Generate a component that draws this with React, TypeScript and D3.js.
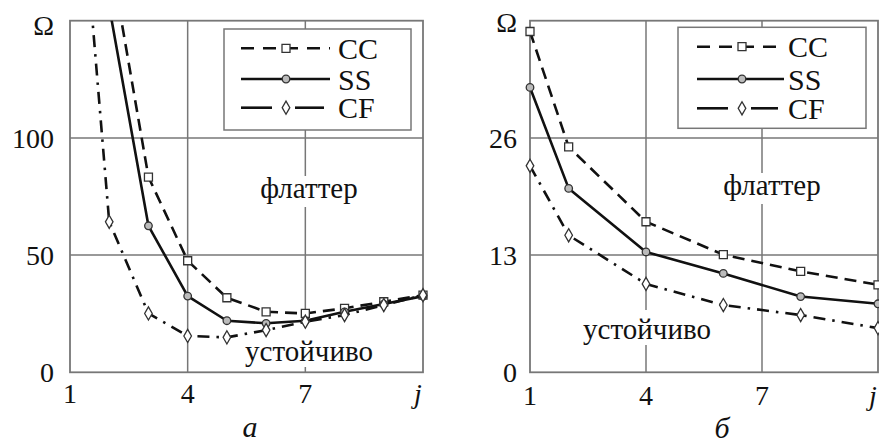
import React from 'react';
import * as d3 from 'd3';

const FONT = '"Liberation Serif", "Times New Roman", serif';

// panel a: Ω(j), points beyond the top are clipped
const jCcA = [2, 3, 4, 5, 6, 7, 8, 9, 10];
const ccA = [180, 83.3, 47.6, 31.8, 25.8, 25.1, 27.3, 30.1, 32.9];
const jSsA = [2, 3, 4, 5, 6, 7, 8, 9, 10];
const ssA = [156, 62.5, 32.5, 22, 20.9, 22, 25.8, 29.1, 32.5];
const jCfA = [1, 2, 3, 4, 5, 6, 7, 8, 9, 10];
const cfA = [265, 64.2, 25.1, 15.5, 14.9, 18, 21.6, 24.4, 28.7, 32.9];

// panel б
const jB = [1, 2, 4, 6, 8, 10];
const ccB = [37.8, 25.0, 16.7, 13.05, 11.2, 9.7];
const ssB = [31.6, 20.4, 13.35, 10.97, 8.4, 7.6];
const cfB = [22.9, 15.2, 9.8, 7.46, 6.35, 4.9];

const xTicks = [1, 4, 7];
const yTicksA = [0, 50, 100];
const yTicksB = [0, 13, 26];
const names = ['CC', 'SS', 'CF'];

const dashes: Record<string, string | undefined> = {
  CC: '12,7',
  SS: undefined,
  CF: '12,7,2.5,7',
};
const symbols: Record<string, d3.SymbolType> = {
  CC: d3.symbolSquare,
  SS: d3.symbolCircle,
  CF: d3.symbolDiamond,
};
const symbolSize: Record<string, number> = { CC: 64, SS: 45, CF: 50 };
const symbolFill: Record<string, string> = { CC: '#fff', SS: '#bbb', CF: '#fff' };

const GRID = '#777';

function Marker({ name, x, y }: { name: string; x: number; y: number }) {
  const path = d3.symbol().type(symbols[name]).size(symbolSize[name])();
  return (
    <path
      d={path || ''}
      transform={`translate(${x},${y})`}
      fill={symbolFill[name]}
      stroke="#333"
      strokeWidth={1.3}
    />
  );
}

function Panel(props: any) {
  const {
    id, xRange, top, bottom, yMax, yTicks, series,
    yLabelX, xLabelY, omega, caption, flutter, stable, legend,
  } = props;

  const x = d3.scaleLinear().domain([1, 10]).range(xRange);
  const y = d3.scaleLinear().domain([0, yMax]).range([bottom, top]);
  const line = d3
    .line<[number, number]>()
    .x((d) => x(d[0]))
    .y((d) => y(d[1]));

  const [x0, x1] = xRange;

  return (
    <g fontFamily={FONT} fill="#111">
      <defs>
        <clipPath id={`clip-${id}`}>
          <rect x={x0 - 20} y={top} width={x1 - x0 + 40} height={bottom - top + 20} />
        </clipPath>
      </defs>

      {/* grid */}
      {xTicks.slice(1).map((t) => (
        <line key={`vx${t}`} x1={x(t)} x2={x(t)} y1={top} y2={bottom} stroke={GRID} strokeWidth={1.5} />
      ))}
      {yTicks.slice(1).map((t: number) => (
        <line key={`hy${t}`} x1={x0} x2={x1} y1={y(t)} y2={y(t)} stroke={GRID} strokeWidth={1.5} />
      ))}
      <rect x={x0} y={top} width={x1 - x0} height={bottom - top} fill="none" stroke={GRID} strokeWidth={1.8} />

      {/* tick labels */}
      {yTicks.map((t: number) => (
        <text key={`yl${t}`} x={yLabelX} y={y(t) + 10} fontSize={28} textAnchor="end">
          {t}
        </text>
      ))}
      <text x={omega.x} y={omega.y} fontSize={28} textAnchor="end">Ω</text>
      {xTicks.map((t) => (
        <text key={`xl${t}`} x={x(t)} y={xLabelY} fontSize={28} textAnchor="middle">
          {t}
        </text>
      ))}
      <text x={x(10) - 5} y={xLabelY} fontSize={28} fontStyle="italic" textAnchor="middle">j</text>
      <text x={caption.x} y={caption.y} fontSize={30} fontStyle="italic" textAnchor="middle">
        {caption.text}
      </text>

      {/* region labels on white */}
      <rect x={flutter.x - 52} y={flutter.y - 22} width={104} height={31} fill="#fff" />
      <text x={flutter.x} y={flutter.y} fontSize={29} textAnchor="middle">флаттер</text>
      <rect x={stable.x - 68} y={stable.y - stable.pad} width={136} height={stable.pad + 6} fill="#fff" />
      <text x={stable.x} y={stable.y} fontSize={29} textAnchor="middle">устойчиво</text>

      {/* legend */}
      <rect x={legend.x} y={legend.y} width={legend.w} height={legend.h} fill="#fff" stroke={GRID} strokeWidth={1.5} />
      {names.map((n, i) => {
        const ry = legend.rows[i];
        const segs =
          n === 'CF'
            ? [
                [legend.lx0, legend.mx - 14],
                [legend.mx + 9, legend.lx1 - 6],
              ]
            : [[legend.lx0, legend.lx1]];
        return (
          <g key={`lg${n}`}>
            {segs.map((s, k) => (
              <line
                key={k}
                x1={s[0]}
                x2={s[1]}
                y1={ry}
                y2={ry}
                stroke="#111"
                strokeWidth={2.6}
                strokeDasharray={n === 'CC' ? '13,9' : undefined}
              />
            ))}
            <Marker name={n} x={legend.mx} y={ry} />
            <text x={legend.tx} y={ry + 10.5} fontSize={30}>{n}</text>
          </g>
        );
      })}

      {/* curves */}
      <g clipPath={`url(#clip-${id})`}>
        {series.map((s: any) => {
          const pts: [number, number][] = s.j.map((j: number, i: number) => [j, s.v[i]]);
          return (
            <g key={s.name}>
              <path
                d={line(pts) || ''}
                fill="none"
                stroke="#111"
                strokeWidth={2.6}
                strokeDasharray={dashes[s.name]}
                strokeLinejoin="round"
              />
              {pts.map((p, i) => (
                <Marker key={i} name={s.name} x={x(p[0])} y={y(p[1])} />
              ))}
            </g>
          );
        })}
      </g>
    </g>
  );
}

export default function App() {
  return (
    <svg
      width={879}
      height={443}
      style={{ position: 'absolute', left: 0, top: 0, background: '#fff', display: 'block' }}
    >
      <Panel
        id="a"
        xRange={[70, 423]}
        top={20.7}
        bottom={372.3}
        yMax={150}
        yTicks={yTicksA}
        series={[
          { name: 'CC', j: jCcA, v: ccA },
          { name: 'SS', j: jSsA, v: ssA },
          { name: 'CF', j: jCfA, v: cfA },
        ]}
        yLabelX={54}
        xLabelY={403}
        omega={{ x: 54, y: 35 }}
        caption={{ text: 'a', x: 250, y: 437 }}
        flutter={{ x: 309, y: 198 }}
        stable={{ x: 309, y: 361, pad: 33 }}
        legend={{ x: 224, y: 29, w: 187, h: 101, lx0: 241, lx1: 330, mx: 286, tx: 338, rows: [48.3, 79, 107.7] }}
      />
      <Panel
        id="b"
        xRange={[530, 878]}
        top={20.7}
        bottom={372.3}
        yMax={39}
        yTicks={yTicksB}
        series={[
          { name: 'CC', j: jB, v: ccB },
          { name: 'SS', j: jB, v: ssB },
          { name: 'CF', j: jB, v: cfB },
        ]}
        yLabelX={517}
        xLabelY={405}
        omega={{ x: 517, y: 31.7 }}
        caption={{ text: 'б', x: 722, y: 438 }}
        flutter={{ x: 772, y: 195 }}
        stable={{ x: 647, y: 339, pad: 29 }}
        legend={{ x: 678, y: 27.3, w: 188, h: 101, lx0: 697, lx1: 784, mx: 742, tx: 788, rows: [46.7, 79, 108.3] }}
      />
    </svg>
  );
}
